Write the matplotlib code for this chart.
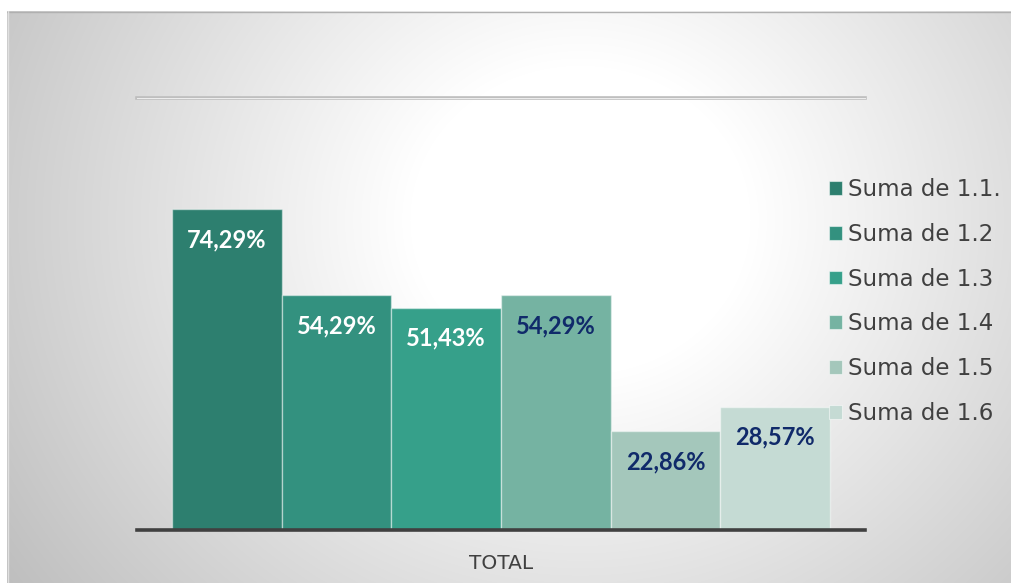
import numpy as np
import matplotlib
matplotlib.use("Agg")
import matplotlib.pyplot as plt
from matplotlib.patches import Patch

# ---- data ----
category = ["TOTAL"]
series = ["Suma de 1.1.", "Suma de 1.2", "Suma de 1.3", "Suma de 1.4", "Suma de 1.5", "Suma de 1.6"]
values = [74.29, 54.29, 51.43, 54.29, 22.86, 28.57]
labels = ["74,29%", "54,29%", "51,43%", "54,29%", "22,86%", "28,57%"]

colors = ["#2D7F6F", "#33917F", "#36A08A", "#75B3A2", "#A4C7BB", "#C5DBD4"]
label_colors = ["white", "white", "white", "#102A6A", "#102A6A", "#102A6A"]

W, H = 1011, 583
fig = plt.figure(figsize=(W / 100, H / 100), dpi=100)
fig.patch.set_facecolor("white")

# ---- background radial gradient panel ----
x0, y0 = 7, 11  # pixel offsets (left, top)
bg = fig.add_axes([x0 / W, 0, 1 - x0 / W, (H - y0) / H])
pw, ph = W - x0, H - y0
xx, yy = np.meshgrid(np.arange(pw), np.arange(ph))
cx, cy = 580 - x0, 220 - y0
r = np.hypot((xx - cx) * 1.0, (yy - cy) * 1.1)
v = 1 - 0.24 * np.clip((r - 170) / 500, 0, 1.2)
img = np.dstack([v, v, v])
bg.imshow(img, aspect="auto", extent=[0, pw, ph, 0], interpolation="bilinear")
bg.set_xlim(0, pw)
bg.set_ylim(ph, 0)
bg.axis("off")
bg.plot([0, pw], [0.5, 0.5], color="#b0b0b0", lw=1.0)
bg.plot([0.5, 0.5], [0, ph], color="#e0e0e0", lw=1.0)

# ---- main axes ----
ax = fig.add_axes([137 / W, 53 / H, 728 / W, 432 / H])
ax.patch.set_alpha(0)
n = len(series)
group_w = 658 / 728
bw = group_w / n
for i, (s, val) in enumerate(zip(series, values)):
    xc = -group_w / 2 + (i + 0.5) * bw
    ax.bar(xc, val, width=bw, color=colors[i], edgecolor=(1, 1, 1, 0.45),
           linewidth=1.0, label=s, zorder=3)
    ax.annotate(labels[i], (xc, val), xytext=(0, -22), textcoords="offset points",
                ha="center", va="center", color=label_colors[i],
                fontsize=17, fontweight="bold", family="Lato", zorder=4)

ax.set_xlim(-0.5, 0.5)
ax.set_ylim(0, 100)
for sp in ax.spines.values():
    sp.set_visible(False)
ax.set_yticks([])
ax.set_xticks([0])
ax.set_xticklabels(category, fontsize=14.5, color="#404040", family="DejaVu Sans")
ax.tick_params(axis="x", length=0, pad=17)

# top gridline (double line)
ax.axhline(100, color="#bdbdbd", lw=2.6, clip_on=False, zorder=2)
ax.axhline(100, color="#ececec", lw=0.8, clip_on=False, zorder=2)
# baseline
ax.axhline(0, color="#404040", lw=2.6, clip_on=False, zorder=5)

handles = [Patch(facecolor=c, edgecolor=(1, 1, 1, 0.5), linewidth=0.8) for c in colors]
leg = ax.legend(handles, series, loc="upper left", bbox_to_anchor=(829 / W, (H - 178) / H),
                bbox_transform=fig.transFigure, frameon=False, fontsize=16.5,
                handlelength=0.55, handleheight=0.55, handletextpad=0.3,
                labelspacing=0.95, borderpad=0, borderaxespad=0)
for t in leg.get_texts():
    t.set_color("#404040")

fig.savefig("out.png", dpi=100)
